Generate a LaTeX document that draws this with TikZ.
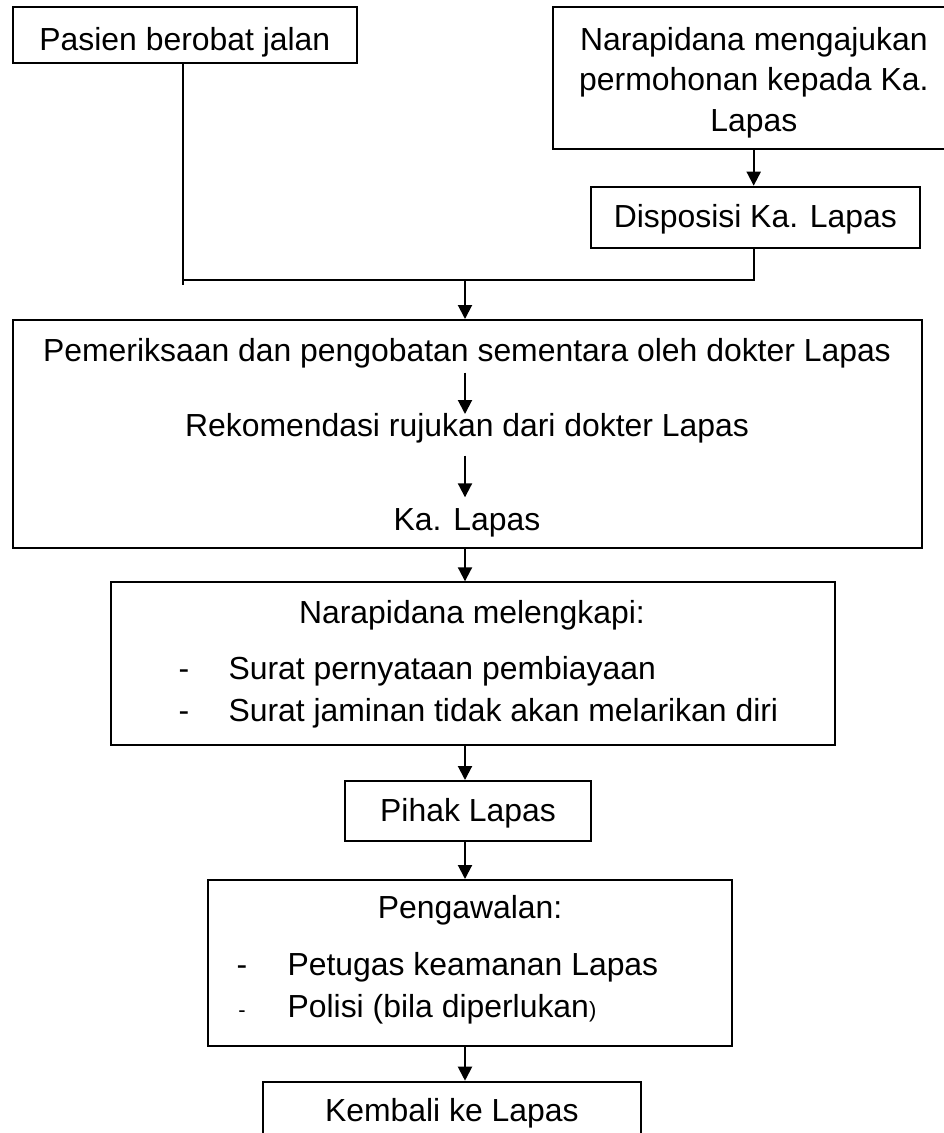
\documentclass[tikz,border=0pt]{standalone}
\usepackage{fontspec}
\setmainfont{Liberation Sans}
\usetikzlibrary{arrows.meta}
\newcommand{\fsz}{\fontsize{31.9}{38}\selectfont}
\newcommand{\fsmall}{\fontsize{22}{26}\selectfont}
\tikzset{
  box/.style={draw, line width=2pt, rectangle, inner sep=0pt},
  txt/.style={anchor=base, inner sep=0pt, font=\fsz},
  txtl/.style={anchor=base west, inner sep=0pt, font=\fsz},
  conn/.style={line width=2pt},
  arr/.style={line width=2pt, -{Triangle[width=14pt,length=14pt]}}
}
\begin{document}
\begin{tikzpicture}[x=1pt,y=-1pt]
\useasboundingbox (0,0) rectangle (944,1133);
% boxes
\node[box, minimum width=344.3pt, minimum height=55.4pt] (b1) at (184.85,35) {};
\node[box, minimum width=402.3pt, minimum height=141.7pt] (b2) at (753.85,78.15) {};
\node[box, minimum width=329.3pt, minimum height=61pt] (disp) at (755.35,217.2) {};
\node[box, minimum width=909pt, minimum height=227.7pt] (b3) at (467.2,433.85) {};
\node[box, minimum width=724.3pt, minimum height=163pt] (b4) at (472.85,663.8) {};
\node[box, minimum width=246pt, minimum height=60pt] (pihak) at (468,811) {};
\node[box, minimum width=524.3pt, minimum height=165.7pt] (peng) at (469.85,962.85) {};
\node[box, minimum width=377.6pt, minimum height=68.3pt] (kemb) at (451.8,1115.85) {};
% texts
\node[txt] (t1) at (184.85,50) {Pasien berobat jalan};
\node[txt] (t2a) at (753.85,50) {Narapidana mengajukan};
\node[txt] (t2b) at (753.85,90.7) {permohonan kepada Ka.};
\node[txt] (t2c) at (753.85,131.7) {Lapas};
\node[txt] (td) at (755.35,227.7) {Disposisi Ka. Lapas};
\node[txt] (t3a) at (467,361) {Pemeriksaan dan pengobatan sementara oleh dokter Lapas};
\node[txt] (t3b) at (467,436) {Rekomendasi rujukan dari dokter Lapas};
\node[txt] (t3c) at (467,530) {Ka. Lapas};
\node[txt] (t4a) at (472,623.3) {Narapidana melengkapi:};
\node[txt] (d4a) at (184,679.3) {-};
\node[txtl] (t4b) at (228.3,679.3) {Surat pernyataan pembiayaan};
\node[txt] (d4b) at (184,721.7) {-};
\node[txtl] (t4c) at (228.3,721.7) {Surat jaminan tidak akan melarikan diri};
\node[txt] (tp) at (468,821.7) {Pihak Lapas};
\node[txt] (t5a) at (470,918.3) {Pengawalan:};
\node[txt] (d5a) at (242,975.7) {-};
\node[txtl] (t5b) at (287.4,975.7) {Petugas keamanan Lapas};
\node[txt, font=\fsmall] (d5b) at (242,1017.3) {-};
\node[txtl] (t5c) at (287.4,1017.3) {Polisi (bila diperlukan{\fsmall)}};
\node[txt] (tk) at (451.8,1121.7) {Kembali ke Lapas};
% junction coordinates
\coordinate (jl) at (183,280);
\coordinate (jr) at (753.7,280);
\coordinate (jm) at (465,280);
\coordinate (a1s) at (465,372.7);
\coordinate (a1e) at (465,414);
\coordinate (a2s) at (465,455.7);
\coordinate (a2e) at (465,497.3);
% connectors
\draw[conn] (b1.south -| jl) -- (jl) -- (jr) -- (disp.south -| jr);
\draw[conn] (jl) -- ++(0,5);
\draw[arr] (b2.south -| jr) -- (disp.north -| jr);
\draw[arr] (jm) -- (b3.north -| jm);
\draw[arr] (a1s) -- (a1e);
\draw[arr] (a2s) -- (a2e);
\draw[arr] (b3.south -| jm) -- (b4.north -| jm);
\draw[arr] (b4.south -| jm) -- (pihak.north -| jm);
\draw[arr] (pihak.south -| jm) -- (peng.north -| jm);
\draw[arr] (peng.south -| jm) -- (kemb.north -| jm);
\end{tikzpicture}
\end{document}
